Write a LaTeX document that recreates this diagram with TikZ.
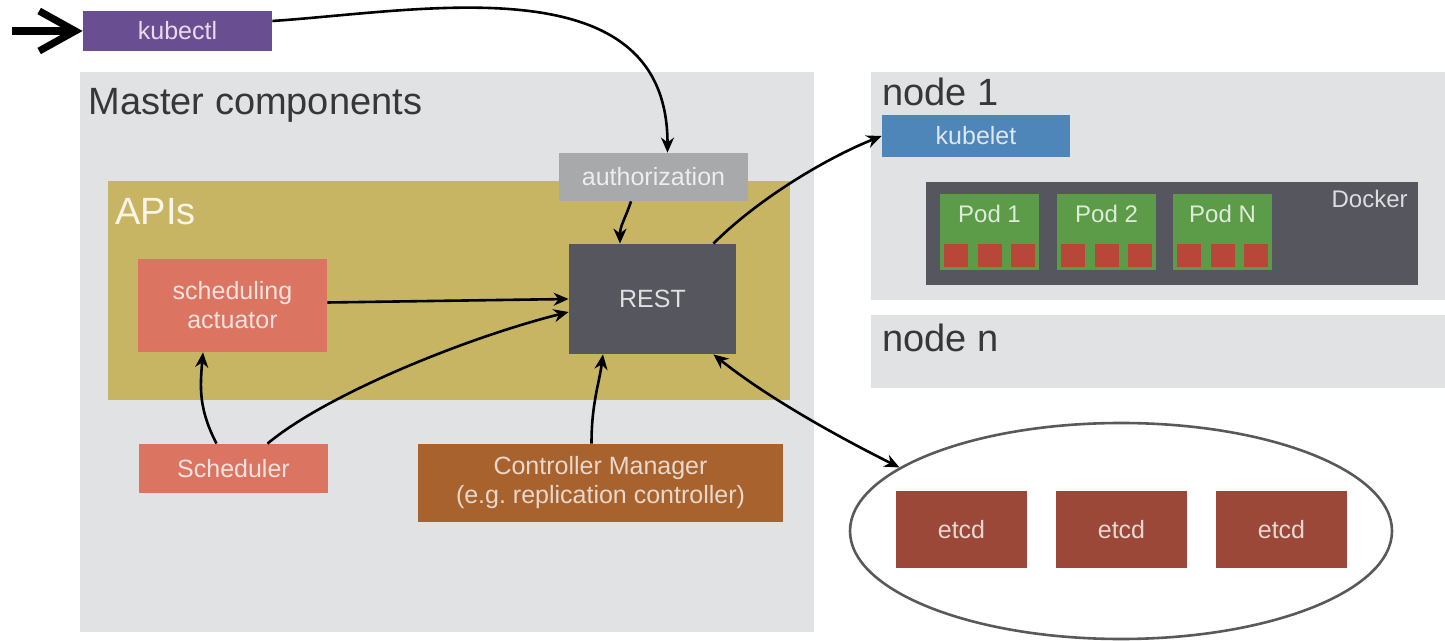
\documentclass[tikz,border=0pt]{standalone}
\usepackage{fontspec}
\setmainfont{Liberation Sans}
\usepackage{xcolor}
\usepackage{tikz}
\usetikzlibrary{arrows.meta, shapes.geometric, calc, positioning, fit}

\definecolor{panelgray}{RGB}{225,226,228}
\definecolor{kubectlviolet}{RGB}{106,78,146}
\definecolor{authgray}{RGB}{168,169,171}
\definecolor{apiolive}{RGB}{200,181,100}
\definecolor{restslate}{RGB}{85,86,94}
\definecolor{schedsalmon}{RGB}{219,116,97}
\definecolor{ctrlbrown}{RGB}{168,98,46}
\definecolor{kubeletblue}{RGB}{79,134,186}
\definecolor{podgreen}{RGB}{92,155,72}
\definecolor{boxred}{RGB}{184,70,57}
\definecolor{etcdbrown}{RGB}{156,72,56}
\definecolor{titlegray}{RGB}{55,55,58}

\newcommand{\boxfont}{\fontsize{12.5}{14.5}\selectfont}
\newcommand{\titlefont}{\fontsize{19}{22}\selectfont}

\begin{document}
\begin{tikzpicture}[x=0.5pt, y=-0.5pt,
		arrow/.style = {line width=1.3pt,-{Stealth[length=7.5pt,width=6.5pt]}},
		dblarrow/.style = {line width=1.3pt,{Stealth[length=7.5pt,width=6.5pt]}-{Stealth[length=7.5pt,width=6.5pt]}}]
		\tikzset{set/.style={inner sep=0pt}}
		\tikzset{boxtext/.style={inner sep=0pt,align=center,font=\boxfont}}
		\tikzset{title/.style={anchor=base west,inner sep=0pt,font=\titlefont,text=titlegray}}
		\useasboundingbox (0,0) rectangle (1445,641);

		% panels
		\node[fit={(80,72) (814,632)}, set, fill=panelgray] (master) {};
		\node[title] (mastertitle) at (88,115) {Master components};
		\node[fit={(108,181) (790,400)}, set, fill=apiolive] (apis) {};
		\node[title, text=white!85!apiolive] (apititle) at (115,225) {APIs};

		\node[fit={(871,72) (1445,300)}, set, fill=panelgray] (nodeone) {};
		\node[title] (nodeonetitle) at (882,106) {node 1};
		\node[fit={(871,315) (1445,388)}, set, fill=panelgray] (noden) {};
		\node[title] (nodentitle) at (882,352) {node n};

		% boxes
		\node[fit={(83,11) (272,51)}, set, fill=kubectlviolet, label={[boxtext, text=violet!15]center:kubectl}] (kubectl) {};
		\node[fit={(559,153) (748,201)}, set, fill=authgray, label={[boxtext, text=white!93!black]center:authorization}] (auth) {};
		\node[fit={(569,244) (736,354)}, set, fill=restslate, label={[boxtext, text=white!88!black]center:REST}] (rest) {};
		\node[fit={(138,259) (327,352)}, set, fill=schedsalmon, label={[boxtext, text=white!80!schedsalmon]center:{scheduling\\actuator}}] (actuator) {};
		\node[fit={(139,444) (328,493)}, set, fill=schedsalmon, label={[boxtext, text=white!80!schedsalmon]center:Scheduler}] (scheduler) {};
		\node[fit={(418,444) (783,522)}, set, fill=ctrlbrown, label={[boxtext, text=white!75!ctrlbrown]center:{Controller Manager\\(e.g.\ replication controller)}}] (ctrlmgr) {};
		\node[fit={(882,115) (1070,157)}, set, fill=kubeletblue, label={[boxtext, text=white!80!kubeletblue]center:kubelet}] (kubelet) {};

		\node[fit={(926,182) (1418,285)}, set, fill=restslate] (docker) {};
		\node[anchor=base east, inner sep=0pt, font=\fontsize{12}{14}\selectfont, text=white!80!restslate] (dockertitle) at (1408,208) {Docker};
		\foreach \p/\x/\t in {one/940/1, two/1057/2, n/1173/N} {
			\node[fit={(\x,194) (\x+99,270)}, set, fill=podgreen] (pod\p) {};
			\node[anchor=base, inner sep=0pt, font=\fontsize{12}{14}\selectfont, text=white!80!podgreen] (label\p) at (\x+49.5,223) {Pod \t};
			\foreach \k in {0,1,2}
				\node[fit={(\x+4+\k*33.5,244) (\x+28+\k*33.5,267)}, set, fill=boxred] (c\p\k) {};
		}

		% etcd cluster
		\node[ellipse, draw=black!65, line width=1.3pt, minimum width=271pt, minimum height=108pt, inner sep=0pt] (etcdring) at (1121,531) {};
		\foreach \n/\x in {one/896, two/1056, three/1216}
			\node[fit={(\x,491) (\x+131,568)}, set, fill=etcdbrown, label={[boxtext, text=white!78!etcdbrown]center:etcd}] (etcd\n) {};

		% connectors
		\coordinate (cmdin) at (12,31);
		\draw[line width=3.6pt, -{Straight Barb[length=18pt,width=20pt]}] (cmdin) -- (kubectl.west);
		\draw[arrow] ([yshift=5pt]kubectl.east) .. controls +(150,-10) and +(0,-190) .. ([xshift=7pt]auth.north);
		\draw[arrow] ([xshift=-11.25pt]auth.south) .. controls +(-6,18) and +(0,-18) .. ([xshift=-16.25pt]rest.north);
		\draw[arrow] ([xshift=-11.5pt]rest.north east) .. controls +(45,-45) and +(-55,22) .. (kubelet.west);
		\draw[arrow] ([yshift=1.5pt]actuator.east) -- (rest.west);
		\draw[arrow] ([xshift=17pt]scheduler.north) .. controls +(60,-50) and +(-100,25) .. ([yshift=-6.5pt]rest.west);
		\draw[arrow] ([xshift=-8.5pt]scheduler.north) .. controls +(-18,-35) and +(-3,35) .. ([xshift=-14.75pt]actuator.south);
		\draw[arrow] ([xshift=-4.5pt]ctrlmgr.north) .. controls +(0,-40) and +(-4,30) .. ([xshift=-24.75pt]rest.south);
		\draw[dblarrow] ([xshift=-11.5pt]rest.south east) .. controls +(50,40) and +(-70,-35) .. (etcdring.164);

	\end{tikzpicture}
\end{document}
